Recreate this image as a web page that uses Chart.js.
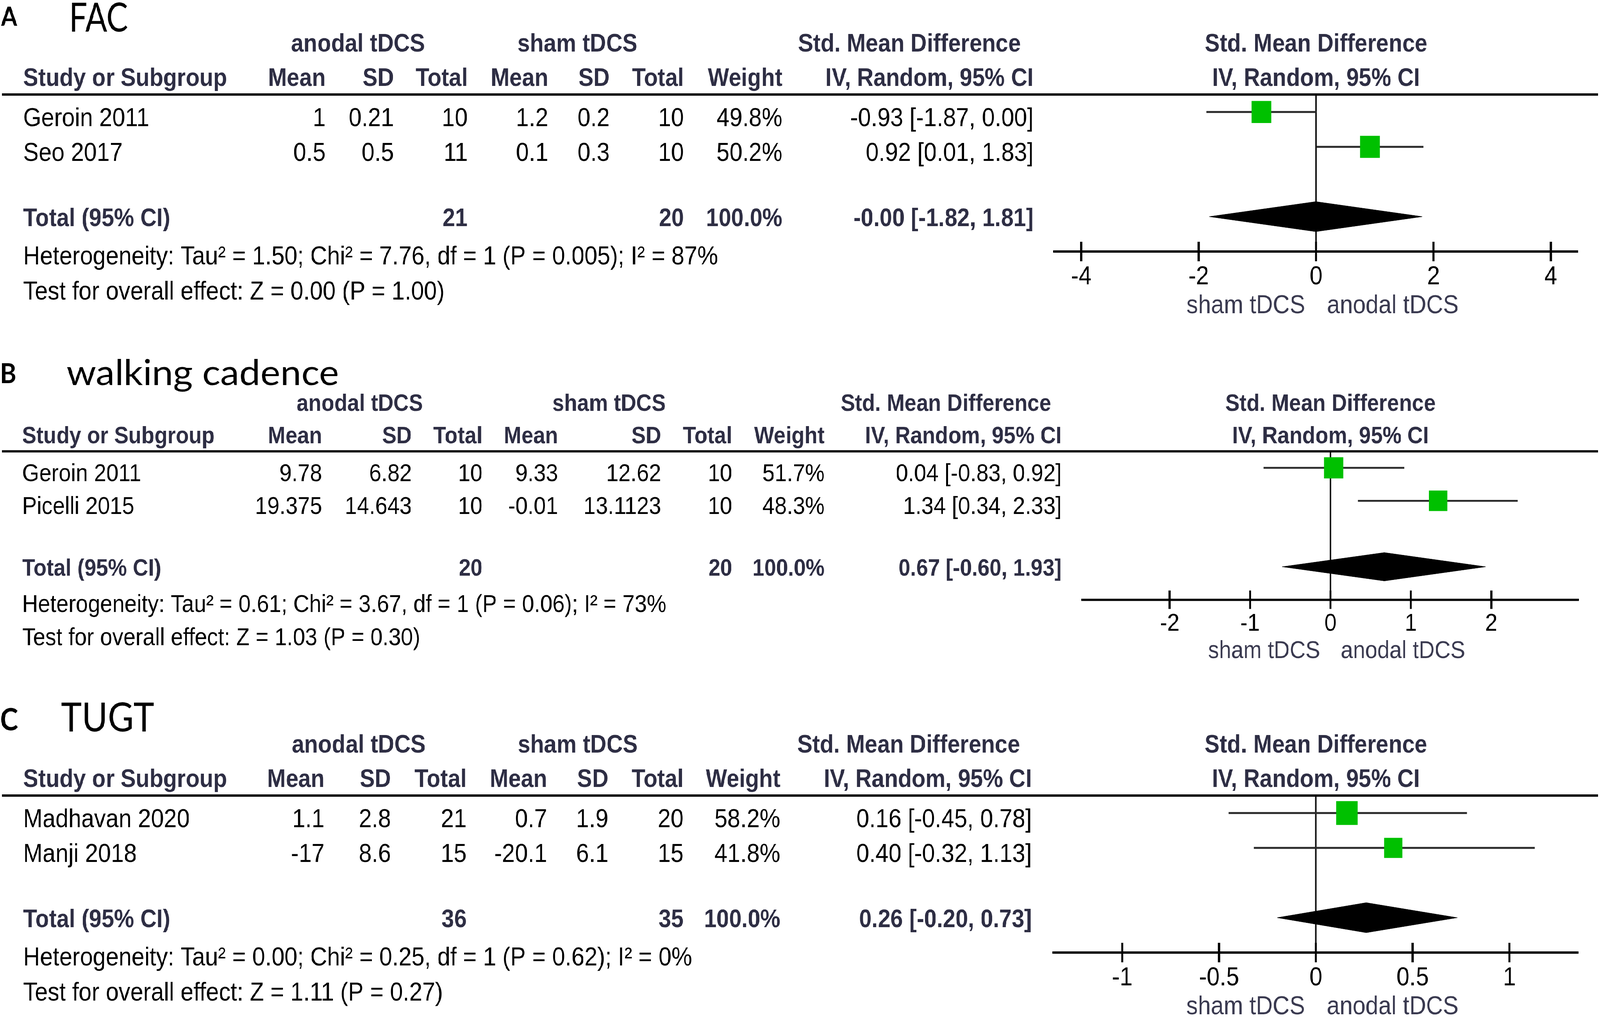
<!DOCTYPE html>
<html>
<head>
<meta charset="utf-8">
<script src="https://cdn.jsdelivr.net/npm/chart.js@4.4.1/dist/chart.umd.min.js"></script>
<style>
  html, body { margin: 0; padding: 0; background: #fff; overflow: hidden; }
  #frame { position: relative; overflow: hidden; background: #fff; }
  #page { position: absolute; left: 0; top: 0; width: 4550px; height: 2604px; background: #fff; transform-origin: 0 0; }
  canvas { position: absolute; left: 0; }
</style>
</head>
<body>
<div id="frame">
  <div id="page">
    <canvas id="fac" style="top:0px"></canvas>
    <canvas id="cadence" style="top:880px"></canvas>
    <canvas id="tugt" style="top:1760px"></canvas>
  </div>
</div>
<script>
// ---- A: FAC ----
const facStudy   = ['Geroin 2011', 'Seo 2017'];
const facExpMean = [1, 0.5];
const facExpSD   = [0.21, 0.5];
const facExpN    = [10, 11];
const facCtlMean = [1.2, 0.1];
const facCtlSD   = [0.2, 0.3];
const facCtlN    = [10, 10];
const facWeight  = [49.8, 50.2];
const facSMD     = [-0.93, 0.92];
const facLow     = [-1.87, 0.01];
const facHigh    = [0.00, 1.83];
const facPooled  = [-0.004, -1.82, 1.81];   // estimate (printed -0.00), lower, upper
const facTotals  = [21, 20];
const facHet     = 'Heterogeneity: Tau² = 1.50; Chi² = 7.76, df = 1 (P = 0.005); I² = 87%';
const facTest    = 'Test for overall effect: Z = 0.00 (P = 1.00)';
const facTicks   = [-4, -2, 0, 2, 4];

// ---- B: walking cadence ----
const cadStudy   = ['Geroin 2011', 'Picelli 2015'];
const cadExpMean = [9.78, 19.375];
const cadExpSD   = [6.82, 14.643];
const cadExpN    = [10, 10];
const cadCtlMean = [9.33, -0.01];
const cadCtlSD   = [12.62, 13.1123];
const cadCtlN    = [10, 10];
const cadWeight  = [51.7, 48.3];
const cadSMD     = [0.04, 1.34];
const cadLow     = [-0.83, 0.34];
const cadHigh    = [0.92, 2.33];
const cadPooled  = [0.67, -0.60, 1.93];
const cadTotals  = [20, 20];
const cadHet     = 'Heterogeneity: Tau² = 0.61; Chi² = 3.67, df = 1 (P = 0.06); I² = 73%';
const cadTest    = 'Test for overall effect: Z = 1.03 (P = 0.30)';
const cadTicks   = [-2, -1, 0, 1, 2];

// ---- C: TUGT ----
const tugStudy   = ['Madhavan 2020', 'Manji 2018'];
const tugExpMean = [1.1, -17];
const tugExpSD   = [2.8, 8.6];
const tugExpN    = [21, 15];
const tugCtlMean = [0.7, -20.1];
const tugCtlSD   = [1.9, 6.1];
const tugCtlN    = [20, 15];
const tugWeight  = [58.2, 41.8];
const tugSMD     = [0.16, 0.40];
const tugLow     = [-0.45, -0.32];
const tugHigh    = [0.78, 1.13];
const tugPooled  = [0.26, -0.20, 0.73];
const tugTotals  = [36, 35];
const tugHet     = 'Heterogeneity: Tau² = 0.00; Chi² = 0.25, df = 1 (P = 0.62); I² = 0%';
const tugTest    = 'Test for overall effect: Z = 1.11 (P = 0.27)';
const tugTicks   = [-1, -0.5, 0, 0.5, 1];

const groups  = ['anodal tDCS', 'sham tDCS'];
const headers = ['Study or Subgroup', 'Mean', 'SD', 'Total', 'Mean', 'SD', 'Total', 'Weight', 'IV, Random, 95% CI'];

// fonts / colours
const SANS  = '"Liberation Sans", Arial, sans-serif';
const TITLE = 'Lato, "Open Sans", sans-serif';
const HEAD  = '#2e2e44';
const DIR   = '#3a3a50';

// vertical template (panel A pixels); other panels = dy + k * value
const T = { head1: 132, head2: 220, top: 242, bottom: 644, rowOff: 36, totOff: 24,
            het: 677, test: 767, dir: 802, axisH: 100 };

const layouts = {
  fac: { letter: 'A', title: 'FAC', height: 880, dy: 0, k: 1,
         letterX: 3, letterBase: 66, letterSize: 66, titleX: 196, titleBase: 81, titleSize: 102, titleW: 168,
         cols: [66, 926, 1120, 1330, 1559, 1734, 1945, 2225, 2939], groupX: [1018, 1642, 2586],
         plot: [2998, 4487], range: [-4.46, 4.46] },
  cadence: { letter: 'B', title: 'walking cadence', height: 880, dy: 47, k: 0.945,
         letterX: 0, letterBase: 101, letterSize: 70, titleX: 189, titleBase: 106, titleSize: 92, titleW: 775,
         cols: [63, 916, 1171, 1372, 1587, 1880, 2082, 2345, 3019], groupX: [1023, 1732, 2690],
         plot: [3078, 4489], range: [-3.085, 3.085] },
  tugt: { letter: 'C', title: 'TUGT', height: 844, dy: 35, k: 1,
         letterX: 0, letterBase: 110, letterSize: 78, titleX: 173, titleBase: 113, titleSize: 102, titleW: 266,
         cols: [66, 923, 1112, 1327, 1556, 1730, 1944, 2219, 2934], groupX: [1020, 1643, 2584],
         plot: [2996, 4488], range: [-1.355, 1.355] }
};

// the page is laid out at 4550 x 2604; stretch it onto whatever viewport we get
const sx = window.innerWidth / 4550, sy = window.innerHeight / 2604;
const frame = document.getElementById('frame');
frame.style.width = window.innerWidth + 'px';
frame.style.height = window.innerHeight + 'px';
document.getElementById('page').style.transform = 'scale(' + sx + ',' + sy + ')';

function put(ctx, s, x, y, font, color, align) {
  ctx.font = font;
  ctx.fillStyle = color;
  ctx.textAlign = align;
  ctx.textBaseline = 'alphabetic';
  ctx.fillText(s, x, y);
}

function ciText(est, lo, hi) {
  return est.toFixed(2) + ' [' + lo.toFixed(2) + ', ' + hi.toFixed(2) + ']';
}

function tablePlugin(L, D) {
  return {
    id: 'forestTable',
    afterDraw(chart) {
      const ctx = chart.ctx, k = L.k;
      const Y = v => L.dy + k * v;
      const xS = chart.scales.x, yS = chart.scales.y, a = chart.chartArea;
      const reg = (66 * k) + 'px ' + SANS;
      const bold = 'bold ' + (64 * k) + 'px ' + SANS;
      const mid = (a.left + a.right) / 2;
      ctx.save();

      // panel letter + title
      put(ctx, L.letter, L.letterX, L.letterBase, 'bold ' + L.letterSize + 'px ' + TITLE, '#000', 'left');
      ctx.font = L.titleSize + 'px ' + TITLE;
      const tsx = L.titleW / ctx.measureText(L.title).width;
      ctx.save();
      ctx.translate(L.titleX, L.titleBase);
      ctx.scale(tsx, 1);
      put(ctx, L.title, 0, 0, L.titleSize + 'px ' + TITLE, '#000', 'left');
      ctx.restore();

      // column headers
      put(ctx, groups[0], L.groupX[0], Y(T.head1), bold, HEAD, 'center');
      put(ctx, groups[1], L.groupX[1], Y(T.head1), bold, HEAD, 'center');
      put(ctx, 'Std. Mean Difference', L.groupX[2], Y(T.head1), bold, HEAD, 'center');
      put(ctx, 'Std. Mean Difference', mid, Y(T.head1), bold, HEAD, 'center');
      headers.forEach((h, j) => put(ctx, h, L.cols[j], Y(T.head2), bold, HEAD, j ? 'right' : 'left'));
      put(ctx, headers[8], mid, Y(T.head2), bold, HEAD, 'center');

      ctx.strokeStyle = '#000';
      ctx.lineWidth = 6 * k;
      ctx.beginPath();
      ctx.moveTo(5, a.top);
      ctx.lineTo(4545, a.top);
      ctx.stroke();

      // study rows
      D.study.forEach((s, i) => {
        const y = yS.getPixelForValue(i) + T.rowOff * k;
        const cells = [s, String(D.eMean[i]), String(D.eSD[i]), String(D.eN[i]),
                       String(D.cMean[i]), String(D.cSD[i]), String(D.cN[i]),
                       D.weight[i].toFixed(1) + '%', ciText(D.smd[i], D.low[i], D.high[i])];
        cells.forEach((c, j) => put(ctx, c, L.cols[j], y, reg, '#000', j ? 'right' : 'left'));
      });

      // total row
      const ty = yS.getPixelForValue(D.study.length + 1) + T.totOff * k;
      const wsum = D.weight.reduce((p, v) => p + v, 0);
      put(ctx, 'Total (95% CI)', L.cols[0], ty, bold, HEAD, 'left');
      put(ctx, String(D.totals[0]), L.cols[3], ty, bold, HEAD, 'right');
      put(ctx, String(D.totals[1]), L.cols[6], ty, bold, HEAD, 'right');
      put(ctx, wsum.toFixed(1) + '%', L.cols[7], ty, bold, HEAD, 'right');
      put(ctx, ciText(D.pooled[0], D.pooled[1], D.pooled[2]), L.cols[8], ty, bold, HEAD, 'right');

      put(ctx, D.het, L.cols[0], Y(T.het), reg, '#000', 'left');
      put(ctx, D.test, L.cols[0], Y(T.test), reg, '#000', 'left');

      // tick marks crossing the axis
      ctx.lineWidth = 6 * k;
      xS.ticks.forEach(t => {
        const x = xS.getPixelForValue(t.value);
        ctx.beginPath();
        ctx.moveTo(x, a.bottom - 25 * k);
        ctx.lineTo(x, a.bottom + 25 * k);
        ctx.stroke();
      });

      // favours labels
      const x0 = xS.getPixelForValue(0);
      put(ctx, groups[1], x0 - 31 * k, Y(T.dir), reg, DIR, 'right');
      put(ctx, groups[0], x0 + 31 * k, Y(T.dir), reg, DIR, 'left');
      ctx.restore();
    }
  };
}

function makeChart(id, D) {
  const L = layouts[id], k = L.k;
  const cv = document.getElementById(id);
  cv.width = 4550;
  cv.height = L.height;
  cv.style.width = '4550px';
  cv.style.height = L.height + 'px';

  const n = D.study.length, totRow = n + 1;
  const datasets = [];
  datasets.push({
    label: 'studies',
    data: D.smd.map((v, i) => ({ x: v, y: i })),
    pointStyle: 'rect',
    pointRadius: D.weight.map(w => 8 * Math.sqrt(w) * k / Math.SQRT2),
    backgroundColor: '#00c000',
    borderWidth: 0,
    showLine: false
  });
  datasets.push({
    label: 'pooled',
    data: [
      { x: D.pooled[1], y: totRow }, { x: D.pooled[0], y: totRow - 0.43 },
      { x: D.pooled[2], y: totRow }, { x: D.pooled[0], y: totRow + 0.43 },
      { x: D.pooled[1], y: totRow }
    ],
    showLine: true, fill: 'shape', tension: 0,
    backgroundColor: '#000', borderColor: '#000', borderWidth: 1, pointRadius: 0
  });
  D.study.forEach((s, i) => datasets.push({
    label: s,
    data: [{ x: D.low[i], y: i }, { x: D.high[i], y: i }],
    showLine: true, borderColor: '#2a2a2a', borderWidth: 5 * k, pointRadius: 0
  }));
  datasets.push({
    label: 'no effect',
    data: [{ x: 0, y: -0.5 }, { x: 0, y: totRow + 1 }],
    showLine: true, borderColor: '#111', borderWidth: 5 * k, pointRadius: 0
  });

  const top = L.dy + k * T.top;
  const bottom = L.dy + k * T.bottom;
  const axisH = T.axisH * k;

  return new Chart(cv, {
    type: 'scatter',
    data: { datasets },
    options: {
      responsive: false,
      animation: false,
      events: [],
      layout: {
        autoPadding: false,
        padding: { left: L.plot[0], right: 4550 - L.plot[1], top: top, bottom: L.height - bottom - axisH }
      },
      plugins: { legend: { display: false }, tooltip: { enabled: false } },
      scales: {
        x: {
          type: 'linear',
          min: L.range[0],
          max: L.range[1],
          afterBuildTicks: s => { s.ticks = D.ticks.map(v => ({ value: v })); },
          afterFit: s => { s.height = axisH; },
          grid: { display: false },
          border: { display: true, color: '#000', width: 6 * k },
          ticks: {
            autoSkip: false, maxRotation: 0, minRotation: 0,
            padding: 18 * k, color: '#000',
            font: { family: SANS, size: 66 * k },
            callback: v => String(v)
          }
        },
        y: { type: 'linear', min: -0.5, max: totRow + 1, reverse: true, display: false }
      }
    },
    plugins: [tablePlugin(L, D)]
  });
}

makeChart('fac', {
  study: facStudy, eMean: facExpMean, eSD: facExpSD, eN: facExpN,
  cMean: facCtlMean, cSD: facCtlSD, cN: facCtlN, weight: facWeight,
  smd: facSMD, low: facLow, high: facHigh, pooled: facPooled, totals: facTotals,
  het: facHet, test: facTest, ticks: facTicks
});
makeChart('cadence', {
  study: cadStudy, eMean: cadExpMean, eSD: cadExpSD, eN: cadExpN,
  cMean: cadCtlMean, cSD: cadCtlSD, cN: cadCtlN, weight: cadWeight,
  smd: cadSMD, low: cadLow, high: cadHigh, pooled: cadPooled, totals: cadTotals,
  het: cadHet, test: cadTest, ticks: cadTicks
});
makeChart('tugt', {
  study: tugStudy, eMean: tugExpMean, eSD: tugExpSD, eN: tugExpN,
  cMean: tugCtlMean, cSD: tugCtlSD, cN: tugCtlN, weight: tugWeight,
  smd: tugSMD, low: tugLow, high: tugHigh, pooled: tugPooled, totals: tugTotals,
  het: tugHet, test: tugTest, ticks: tugTicks
});
</script>
</body>
</html>
